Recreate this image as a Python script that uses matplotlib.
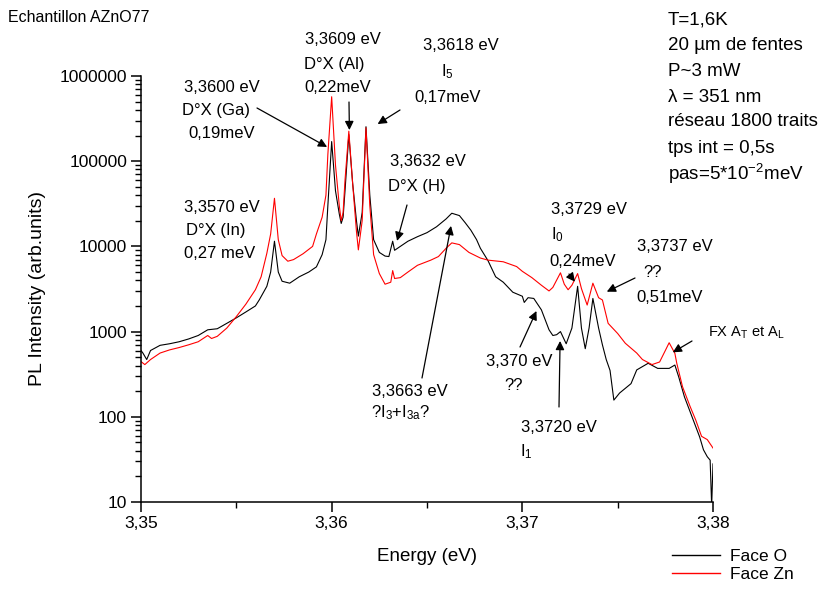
import matplotlib
matplotlib.use("Agg")
import matplotlib.pyplot as plt
from matplotlib.lines import Line2D
from matplotlib.ticker import LogLocator, FixedLocator, MultipleLocator, FuncFormatter, NullFormatter

plt.rcParams['font.family'] = ['Liberation Sans', 'DejaVu Sans']
plt.rcParams['mathtext.fontset'] = 'custom'
plt.rcParams['mathtext.rm'] = 'Liberation Sans'
plt.rcParams['mathtext.it'] = 'Liberation Sans'
plt.rcParams['mathtext.bf'] = 'Liberation Sans:bold'

# ---------------- data ----------------
faceO_E = [3.3500, 3.3501, 3.3503, 3.3505, 3.3510, 3.3515, 3.3520, 3.3525, 3.3530, 3.3535,
           3.3540, 3.3545, 3.3550, 3.3555, 3.3560, 3.3562, 3.3566, 3.3568, 3.3570, 3.3572,
           3.3574, 3.3578, 3.3583, 3.3588, 3.3592, 3.3595, 3.3597, 3.3598, 3.3600, 3.3602,
           3.3604, 3.3605, 3.3606, 3.3607, 3.3609, 3.3611, 3.3613, 3.3614, 3.3616, 3.3618,
           3.3620, 3.3622, 3.3625, 3.3628, 3.3630, 3.3632, 3.3633, 3.3636, 3.3640, 3.3645,
           3.3650, 3.3655, 3.3660, 3.3663, 3.3667, 3.3670, 3.3673, 3.3676, 3.3678, 3.3682,
           3.3686, 3.3690, 3.3695, 3.3700, 3.3701, 3.3703, 3.3706, 3.3710, 3.3714, 3.3716,
           3.3718, 3.3720, 3.3723, 3.3726, 3.3729, 3.3731, 3.3733, 3.3735, 3.3737, 3.3740,
           3.3742, 3.3744, 3.3746, 3.3748, 3.3751, 3.3757, 3.3760, 3.3766, 3.3771, 3.3777,
           3.3780, 3.3782, 3.3785, 3.3789, 3.3793, 3.3795, 3.3797, 3.37985, 3.37993, 3.3800]
faceO_I = [600, 560, 470, 600, 690, 720, 760, 820, 900, 1050,
           1080, 1250, 1450, 1700, 2000, 2350, 3400, 5000, 11500, 5000,
           3900, 3700, 4400, 5000, 5750, 8000, 12000, 30000, 170000, 45000,
           24000, 18600, 22000, 45000, 205000, 55000, 20000, 13200, 25000, 254000,
           40000, 12000, 8500, 7700, 7600, 11500, 9000, 10000, 11500, 13000,
           14500, 17000, 21000, 24500, 23000, 19000, 15500, 12000, 9500, 6800,
           4400, 3800, 2900, 2600, 2200, 2500, 2450, 1800, 1050, 900,
           920, 1000, 720, 1100, 3400, 1100, 630, 1100, 2450, 1100,
           700, 470, 350, 157, 190, 245, 355, 425, 370, 370,
           405, 295, 172, 100, 58, 41, 34, 31, 9, 28]

faceZn_E = [3.3500, 3.3502, 3.3505, 3.3510, 3.3515, 3.3520, 3.3525, 3.3530, 3.3535, 3.3537,
            3.3540, 3.3545, 3.3550, 3.3555, 3.3560, 3.3563, 3.3566, 3.3568, 3.3570, 3.3572,
            3.3574, 3.3577, 3.3580, 3.3585, 3.3590, 3.3592, 3.3595, 3.3597, 3.3598, 3.3600,
            3.3602, 3.3604, 3.3605, 3.3606, 3.3607, 3.3609, 3.3611, 3.3613, 3.3614, 3.3616,
            3.3618, 3.3620, 3.3622, 3.3625, 3.3628, 3.3631, 3.3632, 3.3633, 3.3636, 3.3640,
            3.3645, 3.3652, 3.3656, 3.3660, 3.3663, 3.3667, 3.3672, 3.3678, 3.3682, 3.3690,
            3.3697, 3.3700, 3.3705, 3.3710, 3.3714, 3.3716, 3.3720, 3.3722, 3.3724, 3.3726,
            3.3729, 3.3731, 3.3734, 3.3737, 3.3740, 3.3742, 3.3745, 3.3750, 3.3754, 3.3760,
            3.3763, 3.3768, 3.3772, 3.3775, 3.3777, 3.3780, 3.3781, 3.3784, 3.3788, 3.3791,
            3.3794, 3.3797, 3.3800]
faceZn_I = [445, 410, 470, 560, 610, 650, 700, 760, 900, 830,
            880, 1100, 1500, 2100, 3100, 4400, 8300, 14000, 36700, 12000,
            7800, 6700, 7000, 8200, 10000, 14000, 22000, 40000, 120000, 571000,
            90000, 30000, 20000, 25000, 60000, 225000, 55000, 15000, 9100, 20000,
            247000, 30000, 8000, 4800, 3600, 3800, 5200, 4200, 4300, 5000,
            6000, 6900, 7600, 9500, 11000, 10500, 8500, 7300, 6900, 6600,
            5800, 5100, 4300, 3500, 3000, 3300, 4900, 3600, 3100, 3500,
            4800, 3200, 2050, 3700, 2500, 2350, 1250, 950, 730, 560,
            470, 410, 440, 600, 740, 556, 425, 226, 132, 91,
            59, 54, 43]

series_labels = ["Face O", "Face Zn"]
series_colors = ["black", "red"]

x_ticks = [3.35, 3.36, 3.37, 3.38]
y_ticks = [10, 100, 1000, 10000, 100000, 1000000]

W, H = 835, 593

fig = plt.figure(figsize=(W / 100, H / 100), dpi=100)
ax = fig.add_axes([141 / W, 91 / H, 572 / W, 426 / H])

ax.plot(faceO_E, faceO_I, color=series_colors[0], lw=0.8)
ax.plot(faceZn_E, faceZn_I, color=series_colors[1], lw=0.8)

ax.set_yscale('log')
ax.set_xlim(3.35, 3.38)
ax.set_ylim(10, 1000000)

for s in ['top', 'right']:
    ax.spines[s].set_visible(False)
for s in ['left', 'bottom']:
    ax.spines[s].set_linewidth(1.1)

ax.xaxis.set_major_locator(FixedLocator(x_ticks))
ax.xaxis.set_minor_locator(MultipleLocator(0.005))
ax.xaxis.set_major_formatter(FuncFormatter(lambda v, p: f"{v:.2f}".replace('.', ',')))
ax.yaxis.set_major_locator(FixedLocator(y_ticks))
ax.yaxis.set_minor_locator(LogLocator(base=10, subs=range(2, 10)))
ax.yaxis.set_minor_formatter(NullFormatter())
ax.yaxis.set_major_formatter(FuncFormatter(lambda v, p: f"{int(round(v))}"))

ax.tick_params(which='major', direction='out', length=7, width=1.1, labelsize=12.5, pad=3)
ax.tick_params(which='minor', direction='out', length=4, width=1.0)

ax.set_xlabel("Energy (eV)", fontsize=13.5, labelpad=12)
ax.set_ylabel("PL Intensity (arb.units)", fontsize=14, labelpad=10)

def ftext(x, y, s, size=12, ha='center', **kw):
    fig.text(x / W, 1 - y / H, s, fontsize=size, ha=ha, va='center', **kw)

ftext(8, 18, "Echantillon AZnO77", size=11.5, ha='left')

cond = ["T=1,6K", "20 µm de fentes", "P~3 mW", "λ = 351 nm",
        "réseau 1800 traits", "tps int = 0,5s", r"pas=5*10$^{-2}$meV"]
cond_y = [20, 46, 72, 97, 122, 148, 174]
for s, y in zip(cond, cond_y):
    ftext(668, y, s, size=13.5, ha='left')

labels = [
    ("3,3609 eV", 343, 40), ("D°X (Al)", 334, 64), ("0,22meV", 338, 87),
    ("3,3618 eV", 461, 46), (r"I$_5$", 447, 72), ("0,17meV", 448, 97),
    ("3,3600 eV", 222, 87), ("D°X (Ga)", 216, 111), ("0,19meV", 222, 134),
    ("3,3632 eV", 428, 161), ("D°X (H)", 417, 187),
    ("3,3570 eV", 222, 207), ("D°X (In)", 216, 230), ("0,27 meV", 220, 254),
    ("3,3729 eV", 589, 210), (r"I$_0$", 557, 235), ("0,24meV", 583, 261),
    ("3,3737 eV", 675, 246), ("??", 653, 273), ("0,51meV", 670, 297),
    ("3,370 eV", 519, 361), ("??", 514, 386),
    ("3,3663 eV", 410, 391), (r"?I$_3$+I$_\mathrm{3a}$?", 401, 413),
    ("3,3720 eV", 559, 427), (r"I$_1$", 526, 452),
]
for s, x, y in labels:
    ftext(x, y, s, size=12)
ftext(746, 333, r"FX A$_\mathrm{T}$ et A$_\mathrm{L}$", size=10.5)

arrows = [
    ((3.35976, 147000), (257, 108)),
    ((3.36093, 232000), (349, 102)),
    ((3.36241, 273000), (400, 110)),
    ((3.36343, 11600), (407, 205)),
    ((3.36626, 17400), (422, 378)),
    ((3.37074, 1745), (520, 347)),
    ((3.37198, 776), (559, 407)),
    ((3.37276, 3850), (569, 274)),
    ((3.37443, 2940), (635, 278)),
    ((3.37789, 571), (692, 341)),
]
for head, tail in arrows:
    ax.annotate("", xy=head, xycoords='data',
                xytext=(tail[0], H - tail[1]), textcoords='figure pixels',
                arrowprops=dict(arrowstyle='-|>', color='black', lw=0.9,
                                mutation_scale=13, shrinkA=0, shrinkB=0),
                annotation_clip=False)

handles = [Line2D([], [], color=c, lw=1.0) for c in series_colors]
fig.legend(handles, series_labels, loc='upper left',
           bbox_to_anchor=(672 / W, 1 - 549 / H), frameon=False,
           fontsize=12.5, handlelength=2.75, handletextpad=0.6,
           labelspacing=0.15, borderpad=0, borderaxespad=0)

fig.savefig("out.png", dpi=100)
